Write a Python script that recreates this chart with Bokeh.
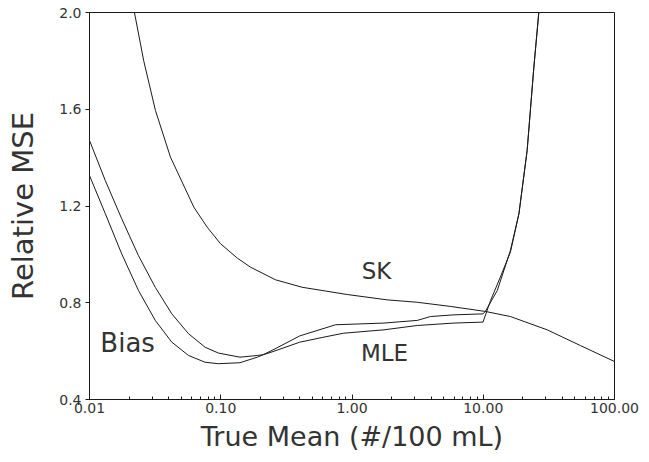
from bokeh.plotting import figure
from bokeh.models import FixedTicker, PrintfTickFormatter, Range1d
from bokeh.core.properties import value
from bokeh.embed import file_html
from bokeh.resources import INLINE

# ---- data ----
sk_x = [0.022, 0.0259, 0.0318, 0.0414, 0.0624, 0.0789, 0.0996, 0.1334, 0.1686, 0.261, 0.417, 0.92, 1.85, 3.14, 5.6, 10.4, 16.1, 30.7, 55.0, 100.0]
sk_y = [2.0, 1.80, 1.595, 1.402, 1.195, 1.112, 1.044, 0.985, 0.947, 0.895, 0.864, 0.834, 0.812, 0.802, 0.785, 0.764, 0.743, 0.688, 0.623, 0.557]

bias_x = [0.01, 0.0132, 0.0176, 0.0236, 0.0317, 0.0424, 0.0568, 0.076, 0.096, 0.14, 0.19, 0.21, 0.25, 0.40, 0.60, 0.86, 1.75, 3.14, 5.97, 9.96, 11.36, 13.5, 16.1, 18.7, 21.6, 24.3, 26.5]
bias_y = [1.471, 1.305, 1.147, 0.995, 0.864, 0.754, 0.672, 0.616, 0.592, 0.575, 0.582, 0.585, 0.598, 0.637, 0.657, 0.674, 0.688, 0.706, 0.716, 0.720, 0.809, 0.906, 1.009, 1.168, 1.43, 1.774, 2.0]

mle_x = [0.01, 0.0132, 0.0176, 0.0236, 0.0317, 0.0424, 0.0568, 0.076, 0.096, 0.14, 0.19, 0.21, 0.25, 0.40, 0.75, 1.75, 3.14, 3.96, 5.97, 9.96, 10.4, 12.8, 16.1, 18.7, 21.6, 24.3, 26.5]
mle_y = [1.326, 1.168, 1.002, 0.851, 0.727, 0.637, 0.582, 0.554, 0.548, 0.552, 0.575, 0.585, 0.605, 0.663, 0.709, 0.716, 0.727, 0.743, 0.750, 0.754, 0.765, 0.851, 1.016, 1.168, 1.43, 1.774, 2.0]

labels = ["SK", "MLE", "Bias"]
label_x = [1.54, 1.77, 0.0121]
label_y = [0.933, 0.594, 0.634]

x_ticks = [0.01, 0.1, 1.0, 10.0, 100.0]
y_ticks = [0.4, 0.8, 1.2, 1.6, 2.0]

FONT = "DejaVu Sans"
INK = "#1a1a1a"
TXT = "#333333"

p = figure(width=649, height=462, x_axis_type="log", output_backend="svg",
           toolbar_location=None, x_range=Range1d(0.01, 100), y_range=Range1d(0.4, 2.0),
           min_border_left=89, min_border_right=35, min_border_top=12, min_border_bottom=63)
p.background_fill_color = "white"
p.border_fill_color = "white"
p.outline_line_color = INK
p.outline_line_width = 1
p.grid.visible = False

p.line(sk_x, sk_y, line_color=INK, line_width=1)
p.line(bias_x, bias_y, line_color=INK, line_width=1)
p.line(mle_x, mle_y, line_color=INK, line_width=1)

p.text(x=label_x[:2], y=label_y[:2], text=labels[:2], text_font=value(FONT), text_font_size="23px",
       text_align="center", text_baseline="middle", text_color=TXT)
p.text(x=label_x[2:], y=label_y[2:], text=labels[2:], text_font=value(FONT), text_font_size="26px",
       text_align="left", text_baseline="middle", text_color=TXT)

minor = []
for d in [0.01, 0.1, 1, 10]:
    for k in range(2, 10):
        minor.append(d * k)

p.xaxis.ticker = FixedTicker(ticks=x_ticks, minor_ticks=minor)
p.xaxis.formatter = PrintfTickFormatter(format="%.2f")
p.yaxis.ticker = FixedTicker(ticks=y_ticks)
p.yaxis.formatter = PrintfTickFormatter(format="%.1f")

for ax in [p.xaxis[0], p.yaxis[0]]:
    ax.axis_line_color = INK
    ax.major_tick_line_color = INK
    ax.minor_tick_line_color = INK
    ax.major_label_text_font = FONT
    ax.major_label_text_font_size = "14px"
    ax.major_label_text_color = TXT
    ax.axis_label_text_font = FONT
    ax.axis_label_text_font_style = "normal"
    ax.axis_label_text_color = TXT

p.xaxis.major_tick_in = 5
p.xaxis.major_tick_out = 0
p.xaxis.minor_tick_in = 3
p.xaxis.minor_tick_out = 0
p.xaxis.major_label_standoff = 3
p.xaxis.axis_label = "True Mean (#/100 mL)"
p.xaxis.axis_label_text_font_size = "27px"
p.xaxis.axis_label_standoff = 5

p.yaxis.major_tick_in = 0
p.yaxis.major_tick_out = 4
p.yaxis.minor_tick_line_color = None
p.yaxis.major_label_standoff = 4
p.yaxis.axis_label = "Relative MSE"
p.yaxis.axis_label_text_font_size = "29px"
p.yaxis.axis_label_standoff = 16

open("out.html", "w").write(file_html(p, INLINE))
